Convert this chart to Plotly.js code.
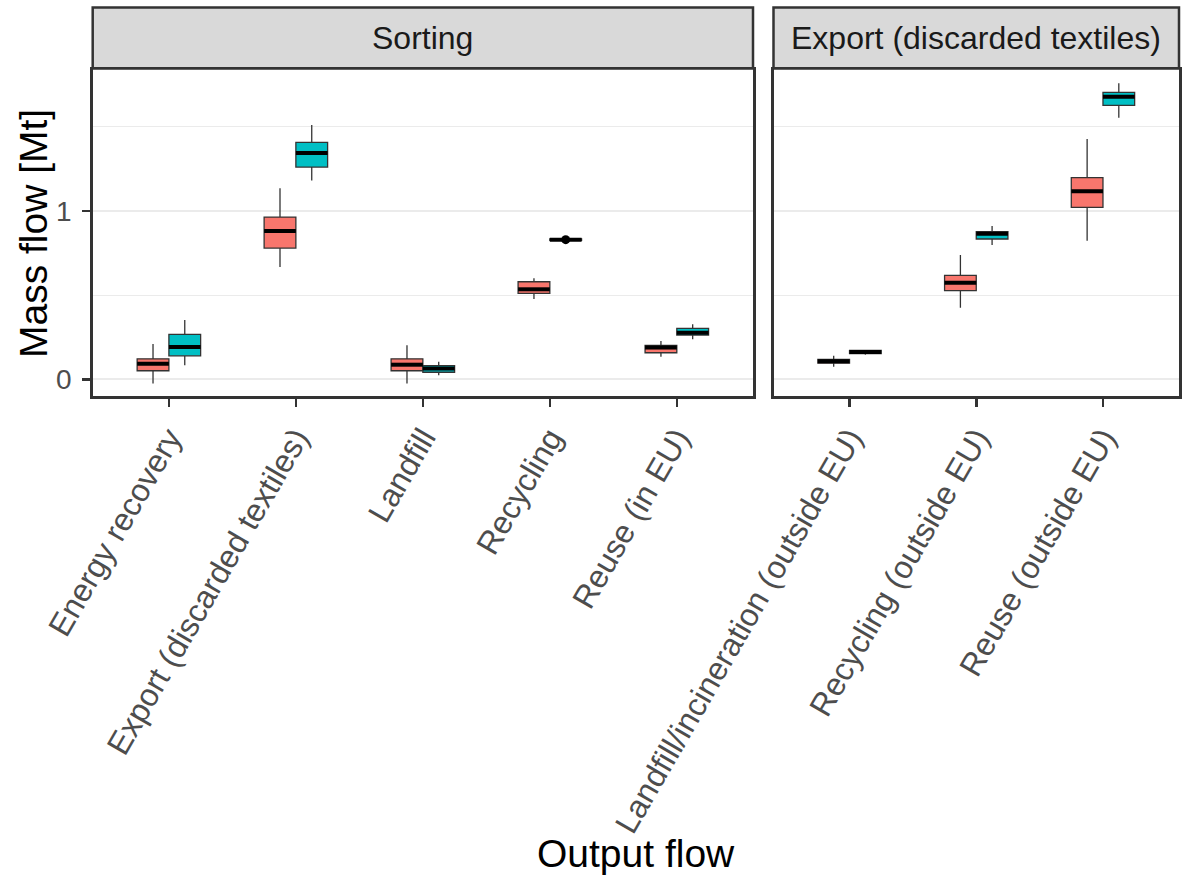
<!DOCTYPE html>
<html>
<head>
<meta charset="utf-8">
<script src="https://cdn.plot.ly/plotly-3.0.1.min.js"></script>
<style>
  html, body { margin: 0; padding: 0; background: #fff; }
  #chart { width: 1192px; height: 881px; }
</style>
</head>
<body>
<div id="chart"></div>
<script>
// Output flow categories for each facet
const sortingFlows = ["Energy recovery", "Export (discarded textiles)", "Landfill", "Recycling", "Reuse (in EU)"];
const exportFlows = ["Landfill/incineration (outside EU)", "Recycling (outside EU)", "Reuse (outside EU)"];
const facetLabels = ["Sorting", "Export (discarded textiles)"];

// Group A (salmon boxes), Sorting facet – box statistics in Mt
const sortA_lower  = [-0.024, 0.667, -0.024, 0.477, 0.134];
const sortA_q1     = [0.051, 0.780, 0.051, 0.511, 0.158];
const sortA_median = [0.093, 0.881, 0.087, 0.535, 0.189];
const sortA_q3     = [0.122, 0.964, 0.122, 0.580, 0.202];
const sortA_upper  = [0.210, 1.135, 0.202, 0.600, 0.228];

// Group B (teal boxes), Sorting facet
const sortB_lower  = [0.083, 1.182, 0.024, 0.826, 0.238];
const sortB_q1     = [0.140, 1.261, 0.042, 0.826, 0.263];
const sortB_median = [0.192, 1.345, 0.065, 0.830, 0.277];
const sortB_q3     = [0.267, 1.408, 0.081, 0.834, 0.303];
const sortB_upper  = [0.352, 1.511, 0.105, 0.834, 0.327];
// Outlying value for Recycling (group B)
const sortB_outlierFlow = ["Recycling"];
const sortB_outlierVal = [0.830];

// Group A, Export (discarded textiles) facet
const expA_lower  = [0.075, 0.426, 0.824];
const expA_q1     = [0.096, 0.527, 1.022];
const expA_median = [0.107, 0.574, 1.117];
const expA_q3     = [0.119, 0.618, 1.198];
const expA_upper  = [0.140, 0.739, 1.428];

// Group B, Export (discarded textiles) facet
const expB_lower  = [0.146, 0.798, 1.554];
const expB_q1     = [0.153, 0.834, 1.628];
const expB_median = [0.162, 0.865, 1.679];
const expB_q3     = [0.172, 0.877, 1.705];
const expB_upper  = [0.172, 0.911, 1.759];

const colA = "#F8766D";
const colB = "#00BFC4";
const dodge = 0.125;    // half of the dodge spacing between the two groups
const boxW = 0.25;      // box width in category units

function positions(cats, offset) {
  return cats.map((c, i) => i + 1 + offset);
}

function boxTrace(cats, offset, lower, q1, med, q3, upper, fill, xa, ya) {
  return {
    type: "box",
    x: positions(cats, offset),
    lowerfence: lower, q1: q1, median: med, q3: q3, upperfence: upper,
    width: boxW,
    fillcolor: fill,
    line: { color: "#333333", width: 1.3 },
    whiskerwidth: 0,
    boxpoints: false,
    hoverinfo: "y",
    xaxis: xa, yaxis: ya,
    showlegend: false
  };
}

// thick black median bars drawn over each box
function medianTrace(cats, offset, med, xa, ya) {
  const xs = [], ys = [];
  positions(cats, offset).forEach((p, i) => {
    xs.push(p - boxW / 2, p + boxW / 2, null);
    ys.push(med[i], med[i], null);
  });
  return {
    type: "scatter", mode: "lines",
    x: xs, y: ys,
    line: { color: "#000000", width: 4 },
    hoverinfo: "skip",
    xaxis: xa, yaxis: ya,
    showlegend: false
  };
}

const traces = [
  boxTrace(sortingFlows, -dodge, sortA_lower, sortA_q1, sortA_median, sortA_q3, sortA_upper, colA, "x", "y"),
  boxTrace(sortingFlows, dodge, sortB_lower, sortB_q1, sortB_median, sortB_q3, sortB_upper, colB, "x", "y"),
  boxTrace(exportFlows, -dodge, expA_lower, expA_q1, expA_median, expA_q3, expA_upper, colA, "x2", "y2"),
  boxTrace(exportFlows, dodge, expB_lower, expB_q1, expB_median, expB_q3, expB_upper, colB, "x2", "y2"),
  medianTrace(sortingFlows, -dodge, sortA_median, "x", "y"),
  medianTrace(sortingFlows, dodge, sortB_median, "x", "y"),
  medianTrace(exportFlows, -dodge, expA_median, "x2", "y2"),
  medianTrace(exportFlows, dodge, expB_median, "x2", "y2"),
  {
    type: "scatter", mode: "markers",
    x: sortB_outlierFlow.map(f => sortingFlows.indexOf(f) + 1 + dodge),
    y: sortB_outlierVal,
    marker: { color: "#000000", size: 9 },
    xaxis: "x", yaxis: "y",
    showlegend: false
  }
];

const W = 1192, H = 881;
const px = v => v / W;
const py = v => 1 - v / H;

const fam = "Liberation Sans, Arial, sans-serif";
const yTickFont = { family: fam, size: 28, color: "#4D4D4D" };
const xTickFont = { family: fam, size: 32, color: "#4D4D4D" };
const frame = {
  showline: true, mirror: true, linecolor: "#333333", linewidth: 2.5
};

const xCommon = Object.assign({}, frame, {
  tickmode: "array",
  ticks: "outside", ticklen: 8, tickwidth: 2.5, tickcolor: "#333333",
  tickangle: -60,
  tickfont: xTickFont,
  showgrid: false, zeroline: false,
  anchor: "y"
});

const yRange = [-0.099, 1.844];

const layout = {
  width: W, height: H,
  margin: { l: 0, r: 0, t: 0, b: 0 },
  paper_bgcolor: "#ffffff",
  plot_bgcolor: "#ffffff",
  boxmode: "overlay",
  showlegend: false,
  font: { family: fam },
  xaxis: Object.assign({}, xCommon, {
    domain: [px(92.7), px(753)],
    range: [0.4, sortingFlows.length + 0.6],
    tickvals: sortingFlows.map((c, i) => i + 1),
    ticktext: sortingFlows,
    anchor: "y"
  }),
  xaxis2: Object.assign({}, xCommon, {
    domain: [px(773.5), px(1179)],
    range: [0.4, exportFlows.length + 0.6],
    tickvals: exportFlows.map((c, i) => i + 1),
    ticktext: exportFlows,
    anchor: "y2"
  }),
  yaxis: Object.assign({}, frame, {
    domain: [py(396), py(69)],
    range: yRange,
    tickmode: "array", tickvals: [0, 1], ticktext: ["0", "1"],
    ticks: "outside", ticklen: 8, tickwidth: 2.5, tickcolor: "#333333",
    tickfont: yTickFont,
    ticklabelstandoff: 5,
    showgrid: true, gridcolor: "#EBEBEB", gridwidth: 2.2,
    minor: { tickmode: "array", tickvals: [0.5, 1.5], showgrid: true, gridcolor: "#EBEBEB", gridwidth: 1.1, ticks: "" },
    zeroline: false,
    anchor: "x"
  }),
  yaxis2: Object.assign({}, frame, {
    domain: [py(396), py(69)],
    matches: "y",
    range: yRange,
    tickmode: "array", tickvals: [0, 1],
    showticklabels: false, ticks: "",
    showgrid: true, gridcolor: "#EBEBEB", gridwidth: 2.2,
    minor: { tickmode: "array", tickvals: [0.5, 1.5], showgrid: true, gridcolor: "#EBEBEB", gridwidth: 1.1, ticks: "" },
    zeroline: false,
    anchor: "x2"
  }),
  shapes: [
    // facet strips
    { type: "rect", xref: "paper", yref: "paper", x0: px(92.7), x1: px(753), y0: py(68.5), y1: py(7.5),
      fillcolor: "#D9D9D9", line: { color: "#333333", width: 2.5 }, layer: "below" },
    { type: "rect", xref: "paper", yref: "paper", x0: px(773.5), x1: px(1179), y0: py(68.5), y1: py(7.5),
      fillcolor: "#D9D9D9", line: { color: "#333333", width: 2.5 }, layer: "below" }
  ],
  annotations: [
    { text: facetLabels[0], xref: "paper", yref: "paper", x: px(422.8), y: py(38), xanchor: "center", yanchor: "middle",
      showarrow: false, font: { size: 32, color: "#1A1A1A" } },
    { text: facetLabels[1], xref: "paper", yref: "paper", x: px(976.2), y: py(38), xanchor: "center", yanchor: "middle",
      showarrow: false, font: { size: 32, color: "#1A1A1A" } },
    { text: "Mass flow [Mt]", xref: "paper", yref: "paper", x: px(33), y: py(234), xanchor: "center", yanchor: "middle",
      textangle: -90, showarrow: false, font: { size: 39, color: "#000000" } },
    { text: "Output flow", xref: "paper", yref: "paper", x: px(636), y: py(853), xanchor: "center", yanchor: "middle",
      showarrow: false, font: { size: 39, color: "#000000" } }
  ]
};

Plotly.newPlot("chart", traces, layout, { displayModeBar: false, staticPlot: true });
</script>
</body>
</html>
